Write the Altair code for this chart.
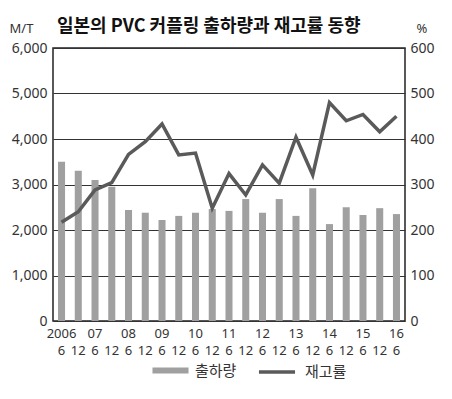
import altair as alt
import pandas as pd

periods = ["2006-06", "2006-12", "2007-06", "2007-12", "2008-06", "2008-12",
           "2009-06", "2009-12", "2010-06", "2010-12", "2011-06", "2011-12",
           "2012-06", "2012-12", "2013-06", "2013-12", "2014-06", "2014-12",
           "2015-06", "2015-12", "2016-06"]
shipments = [3500, 3300, 3100, 2950, 2440, 2380, 2220, 2310, 2380, 2460, 2420,
             2680, 2380, 2680, 2310, 2920, 2130, 2500, 2330, 2480, 2350]
inventory = [217, 240, 288, 304, 366, 394, 433, 365, 369, 248, 324,
             277, 343, 303, 404, 321, 480, 440, 454, 416, 450]
left_ticks = [0, 1000, 2000, 3000, 4000, 5000, 6000]
right_ticks = [0, 100, 200, 300, 400, 500, 600]

df = pd.DataFrame({"period": periods, "shipments": shipments, "inventory": inventory})

KR = "Noto Sans CJK KR"
NUM = "Noto Sans"
TXT = "#333333"
BAR = "#a0a0a0"
LINE = "#5a5a5a"

x_scale = alt.Scale(paddingInner=0.58, paddingOuter=0.3)
x_common = dict(orient="bottom", labelAngle=0, labelFont=NUM, labelFontSize=13,
                labelColor=TXT, tickSize=0, domain=False, labelBaseline="top")

x_years = alt.X(
    "period:N", sort=periods, title=None, scale=x_scale,
    axis=alt.Axis(
        labelExpr="slice(datum.value,5)=='06' ? (slice(datum.value,0,4)=='2006' ? '2006' : slice(datum.value,2,4)) : ''",
        labelPadding=6, **x_common,
    ),
)
x_months = alt.X(
    "period:N", sort=periods, title=None, scale=x_scale,
    axis=alt.Axis(
        labelExpr="slice(datum.value,5)=='06' ? '6' : '12'",
        labelPadding=23, **x_common,
    ),
)

bars = alt.Chart(df).transform_calculate(series="'출하량'").mark_bar().encode(
    x=x_years,
    y=alt.Y(
        "shipments:Q",
        scale=alt.Scale(domain=[0, 6000], nice=False),
        axis=alt.Axis(
            values=left_ticks, format=",d", title="M/T", titleAngle=0,
            titleX=-44, titleY=-16, titleAlign="left", titleBaseline="alphabetic",
            titleFont=NUM, titleFontSize=13, titleFontWeight="normal", titleColor=TXT,
            labelFont=NUM, labelFontSize=14, labelColor=TXT, labelPadding=6,
            tickSize=0, domain=False, grid=True, gridColor="#333333", gridWidth=1,
        ),
    ),
    fill=alt.Fill(
        "series:N",
        scale=alt.Scale(domain=["출하량"], range=[BAR]),
        legend=alt.Legend(
            title=None, orient="none", legendX=99, legendY=304,
            symbolType="M-1,-0.16H1V0.16H-1Z", symbolSize=1300,
            symbolStrokeWidth=0, labelFont=KR, labelFontSize=15,
            labelColor=TXT, labelOffset=6,
        ),
    ),
)

line = alt.Chart(df).transform_calculate(series="'재고률'").mark_line(strokeWidth=3.5).encode(
    x=x_months,
    y=alt.Y(
        "inventory:Q",
        scale=alt.Scale(domain=[0, 600], nice=False),
        axis=alt.Axis(
            orient="right", values=right_ticks, title="%", titleAngle=0,
            titleX=11, titleY=-16, titleAlign="left", titleBaseline="alphabetic",
            titleFont=NUM, titleFontSize=13, titleFontWeight="normal", titleColor=TXT,
            labelFont=NUM, labelFontSize=14, labelColor=TXT, labelPadding=5,
            tickSize=0, domain=False, grid=False,
        ),
    ),
    stroke=alt.Stroke(
        "series:N",
        scale=alt.Scale(domain=["재고률"], range=[LINE]),
        legend=alt.Legend(
            title=None, orient="none", legendX=204, legendY=304,
            symbolType="stroke", symbolSize=1300, symbolStrokeWidth=3.5,
            labelFont=KR, labelFontSize=15, labelColor=TXT, labelOffset=8,
        ),
    ),
)

chart = alt.layer(bars, line).resolve_scale(y="independent").resolve_axis(x="independent").properties(
    width=352, height=273,
    autosize=alt.AutoSizeParams(type="none"),
    padding={"left": 45, "top": 40, "right": 32, "bottom": 65},
    title=alt.TitleParams(
        text="일본의 PVC 커플링 출하량과 재고률 동향", anchor="start", dx=4, dy=28,
        font=KR, fontSize=18, fontWeight="bold", color="#111111",
        frame="group", offset=0, baseline="alphabetic",
    ),
).configure_view(stroke="#222222", strokeWidth=1.5)

chart.save("out.html", embed_options={"renderer": "svg", "actions": False})
